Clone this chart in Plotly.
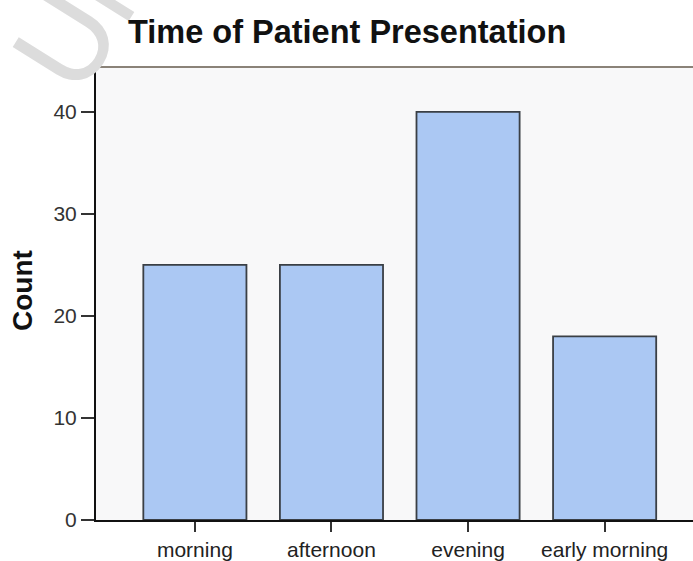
import plotly.graph_objects as go

categories = ["morning", "afternoon", "evening", "early morning"]
counts = [25, 25, 40, 18]
y_ticks = [0, 10, 20, 30, 40]

W, H = 693, 561
L, R, T, B = 96, 0, 67, 41

fig = go.Figure(go.Bar(
    x=categories, y=counts,
    marker=dict(color="#abc8f3", line=dict(color="#3a3f45", width=1.8)),
    width=0.755,
))

fig.update_layout(
    width=W, height=H,
    margin=dict(l=L, r=R, t=T, b=B),
    paper_bgcolor="white",
    plot_bgcolor="#f8f8f9",
    showlegend=False,
    font=dict(family="Liberation Sans, Arial", color="#222"),
    annotations=[
        dict(text="Un", xref="paper", yref="paper",
             x=(80 - L) / (W - L - R), y=(520 - 12) / (520 - 67),
             xanchor="center", yanchor="middle", textangle=-58, showarrow=False,
             font=dict(size=118, color="#dcdcdc", family="DejaVu Sans ExtraLight, Lato, Liberation Sans")),
        dict(text="<b>Count</b>", xref="paper", yref="paper",
             x=(22 - L) / (W - L - R), y=(520 - 291) / (520 - 67),
             xanchor="center", yanchor="middle", textangle=-90, showarrow=False,
             font=dict(size=28, color="#111")),
        dict(text="<b>Time of Patient Presentation</b>", xref="paper", yref="paper",
             x=(126 - L) / (W - L - R), y=(520 - 32) / (520 - 67),
             xanchor="left", yanchor="middle", showarrow=False,
             font=dict(size=32.5, color="#111"), bgcolor="rgba(0,0,0,0)"),
    ],
    xaxis=dict(
        type="category", range=[-0.724, 3.647],
        showline=True, linecolor="#111", linewidth=2,
        ticks="outside", ticklen=10, tickwidth=1.5, tickcolor="#333",
        tickfont=dict(size=21, color="#222"),
        showgrid=False, zeroline=False, fixedrange=True,
    ),
    yaxis=dict(
        range=[0, 44.4], tickvals=y_ticks,
        showline=True, linecolor="#111", linewidth=2,
        ticks="outside", ticklen=13, tickwidth=1.5, tickcolor="#333",
        tickfont=dict(size=21, color="#333"),
        showgrid=False, zeroline=False,
    ),
    shapes=[dict(type="line", xref="paper", yref="paper", x0=0, x1=1, y0=1, y1=1,
                 line=dict(color="#8a8278", width=2))],
)

fig.write_html("out.html", config={"displayModeBar": False},
               post_script="document.body.style.margin='0px';document.body.style.overflow='hidden';")
